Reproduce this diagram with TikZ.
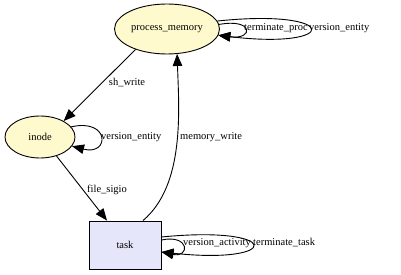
\documentclass[tikz,border=0pt]{standalone}
\usepackage{fontspec}
\setmainfont{Liberation Serif}
\usetikzlibrary{arrows.meta,shapes.geometric}
\definecolor{procfill}{HTML}{FFFACD}
\definecolor{taskfill}{HTML}{E6E6FA}
\begin{document}
\begin{tikzpicture}[x=1pt,y=-1pt,
  font=\fontsize{10.5}{12}\selectfont,
  every node/.style={inner sep=0pt},
  artifact/.style={ellipse, draw, line width=0.9pt, fill=procfill},
  activity/.style={rectangle, draw, line width=0.9pt, fill=taskfill,
    minimum width=72pt, minimum height=48pt},
  flow/.style={line width=0.9pt, -{Triangle[length=12pt,width=9.5pt]}},
  lbl/.style={anchor=west}]
\useasboundingbox (0,0) rectangle (401,275);

% entities and activity
\node[artifact, minimum width=105pt, minimum height=50pt] (pm) at (167,29) {process\_memory};
\node[artifact, minimum width=70pt, minimum height=42pt] (inode) at (40,137) {inode};
\node[activity] (task) at (125,245) {task};

% edges between nodes
\draw[flow] (pm.-147) -- (inode.34);
\node (lsh) at (127,83) {sh\_write};

\draw[flow] (inode.-49) -- ([xshift=-18pt]task.north);
\node (lfs) at (107,190) {file\_sigio};

\draw[flow] ([xshift=18pt]task.north) .. controls (185,185) and (179,110) .. (pm.-68);
\node[lbl] (lmw) at (180,137) {memory\_write};

% self loops on process_memory
\draw[flow] (pm.5) .. controls (254,18) and (254,40) .. (pm.-7);
\draw[flow] (pm.9) .. controls (341,8) and (341,50) .. (pm.-7);
\node[lbl] (ltp) at (244,28) {terminate\_proc};
\node[lbl] (lve1) at (309,28) {version\_entity};

% self loop on inode
\draw[flow] (inode.18) .. controls (110,118) and (110,156) .. (inode.-16);
\node[lbl] (lve2) at (101,137) {version\_entity};

% self loops on task
\draw[flow] ([yshift=5pt]task.east) .. controls (190,234) and (190,258) .. ([yshift=-7pt]task.east);
\draw[flow] ([yshift=8pt]task.east) .. controls (283,225) and (283,265) .. ([yshift=-7pt]task.east);
\node[lbl] (lva) at (183,243) {version\_activity};
\node[lbl] (ltt) at (253,243) {terminate\_task};
\end{tikzpicture}
\end{document}
